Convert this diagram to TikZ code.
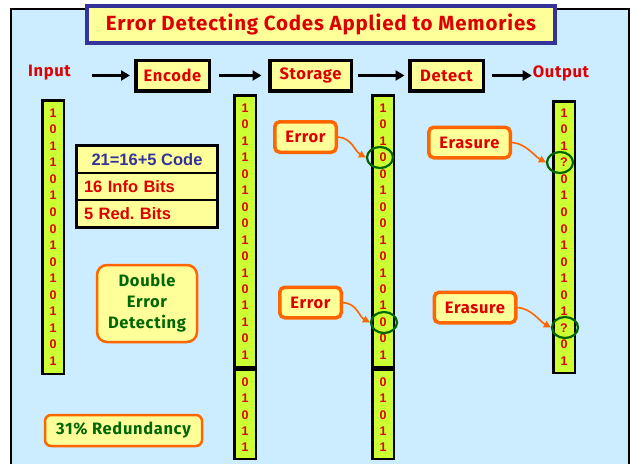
\documentclass[tikz,border=0pt]{standalone}
\usepackage{fontspec}
\setmainfont{Liberation Sans}
\newfontfamily\comic[LetterSpace=4]{Fira Sans}
\usetikzlibrary{arrows.meta,shapes.geometric}
\definecolor{panelblue}{HTML}{CCECFF}
\definecolor{paleyellow}{HTML}{FFFF99}
\definecolor{limebit}{HTML}{CCFF33}
\definecolor{bitred}{HTML}{DD0000}
\definecolor{navytext}{HTML}{333399}
\definecolor{orangeline}{HTML}{FF6600}
\definecolor{darkgreen}{HTML}{006600}
\frenchspacing

\begin{document}
\begin{tikzpicture}[x=1pt,y=-1pt,
  stagebox/.style={draw=black, line width=3.5pt, fill=paleyellow, inner sep=0pt,
    minimum height=30.5pt, text=bitred, font=\comic\bfseries\fontsize{16.5}{18}\selectfont},
  flowlabel/.style={inner sep=0pt, text=bitred, font=\comic\bfseries\fontsize{16.5}{18}\selectfont},
  flowarrow/.style={draw=black, line width=2.5pt, -{Triangle[length=9pt,width=10pt]}},
  bitcol/.style={draw=black, line width=2.5pt, fill=limebit, minimum width=21.5pt, inner sep=0pt},
  bittext/.style={inner sep=0pt, text=bitred, font=\bfseries\fontsize{12.5}{12}\selectfont},
  tablerow/.style={draw=black, line width=1.5pt, fill=paleyellow, minimum width=140pt,
    minimum height=27pt, inner sep=0pt, font=\bfseries\fontsize{16.5}{18}\selectfont},
  callout/.style={draw=orangeline, line width=3.5pt, fill=paleyellow, rounded corners=5pt,
    inner sep=0pt, minimum height=30.5pt, text=bitred, font=\comic\bfseries\fontsize{16.5}{18}\selectfont},
  notebox/.style={draw=orangeline, line width=2.5pt, fill=paleyellow, inner sep=0pt,
    text=darkgreen, font=\comic\bfseries\fontsize{16.5}{21}\selectfont},
  mark ring/.style={draw=darkgreen, line width=2.2pt, ellipse, minimum width=26pt,
    minimum height=21pt, inner sep=0pt},
  callarrow/.style={draw=orangeline, line width=1.6pt, -{Triangle[length=7pt,width=7pt]}}]

\useasboundingbox (0,0) rectangle (634,463);
\clip (0,0) rectangle (634,463);

% background panel
\fill[white] (0,0) rectangle (634,463);
\draw[black, line width=2pt, fill=panelblue] (10.5,9) rectangle (628.5,480);

% title
\node[draw=navytext, line width=4pt, fill=paleyellow, minimum width=468pt, minimum height=37pt,
  inner sep=0pt, text=bitred, font=\comic\bfseries\fontsize{20.5}{24}\selectfont]
  (title) at (321,24.5) {Error Detecting Codes Applied to Memories};

% processing chain
\node[flowlabel] (inp) at (49.5,73) {Input};
\node[stagebox, minimum width=73.5pt] (enc) at (172.5,75.5) {Encode};
\node[stagebox, minimum width=81.5pt] (sto) at (310.5,75.5) {Storage};
\node[stagebox, minimum width=73.5pt] (det) at (446.5,75.5) {Detect};
\node[flowlabel] (outp) at (561,73) {Output};

\draw[flowarrow, shorten <=21pt, shorten >=4pt] (inp.east |- enc.west) -- (enc.west);
\draw[flowarrow, shorten <=7.5pt, shorten >=6.5pt] (enc.east) -- (sto.west);
\draw[flowarrow, shorten <=4.5pt, shorten >=3.5pt] (sto.east) -- (det.west);
\draw[flowarrow, shorten <=6.5pt, shorten >=1pt] (det.east) -- (outp.west |- det.east);

% bit columns
\node[bitcol, minimum height=273.5pt] (colA) at (53,237) {};
\node[bitcol, minimum height=271.5pt] (colB) at (245,231) {};
\node[bitcol, minimum height=89.5pt] (colBr) at (245,414) {};
\node[bitcol, minimum height=271.5pt] (colC) at (383,231) {};
\node[bitcol, minimum height=89.5pt] (colCr) at (383,414) {};
\node[bitcol, minimum height=271.5pt] (colD) at (564,237) {};

\foreach \b [count=\i] in {1,0,1,1,0,1,0,0,1,0,1,0,1,1,0,1}
  \node[bittext] (a\i) at (53,{113+16.53*(\i-1)}) {\b};
\foreach \b [count=\i] in {1,0,1,1,0,1,0,0,1,0,1,0,1,1,0,1}
  \node[bittext] (b\i) at (245,{108+16.47*(\i-1)}) {\b};
\foreach \b [count=\i] in {0,1,0,1,1}
  \node[bittext] (br\i) at (245,{382+16.4*(\i-1)}) {\b};
\foreach \b [count=\i] in {1,0,1,0,0,1,0,0,1,0,1,0,1,0,0,1}
  \node[bittext] (c\i) at (383,{108+16.47*(\i-1)}) {\b};
\foreach \b [count=\i] in {0,1,0,1,1}
  \node[bittext] (cr\i) at (383,{382+16.4*(\i-1)}) {\b};
\foreach \b [count=\i] in {1,0,1,?,0,1,0,0,1,0,1,0,1,?,0,1}
  \node[bittext] (d\i) at (564,{113+16.53*(\i-1)}) {\b};

% code parameters table
\node[tablerow, text=navytext] (row1) at (147,159.5) {21=16+5 Code};
\node[tablerow, text=bitred, text width=126pt, align=left] (row2) at (147,186.5) {16 Info Bits};
\node[tablerow, text=bitred, text width=126pt, align=left] (row3) at (147,213.5) {5 Red. Bits};
\draw[black, line width=2.5pt] (row1.north west) rectangle (row3.south east);

% notes
\node[notebox, rounded corners=10pt, minimum width=100pt, minimum height=77pt, align=center]
  (dbl) at (147,303.5) {Double\\Error\\Detecting};
\node[notebox, rounded corners=6pt, minimum width=157pt, minimum height=31pt]
  (red) at (123.5,430.5) {31\% Redundancy};

% errors in storage
\node[mark ring] (ring1) at (380,157.5) {};
\node[mark ring] (ring2) at (384,322.5) {};
\node[callout, minimum width=61.5pt] (err1) at (305.5,137) {Error};
\node[callout, minimum width=61.5pt] (err2) at (310.5,302.5) {Error};
\draw[callarrow] (err1.east) .. controls +(14,1) and +(-11,-6) .. (ring1.west);
\draw[callarrow] (err2.east) .. controls +(14,1) and +(-11,-6) .. (ring2.west);

% erasures at the output
\node[mark ring] (ring3) at (560,162.5) {};
\node[mark ring] (ring4) at (565,327.5) {};
\node[callout, minimum width=81.5pt] (era1) at (469.5,142.5) {Erasure};
\node[callout, minimum width=81.5pt] (era2) at (475,307.5) {Erasure};
\draw[callarrow] (era1.east) .. controls +(14,1) and +(-11,-6) .. (ring3.west);
\draw[callarrow] (era2.east) .. controls +(14,1) and +(-11,-6) .. (ring4.west);
\end{tikzpicture}
\end{document}
